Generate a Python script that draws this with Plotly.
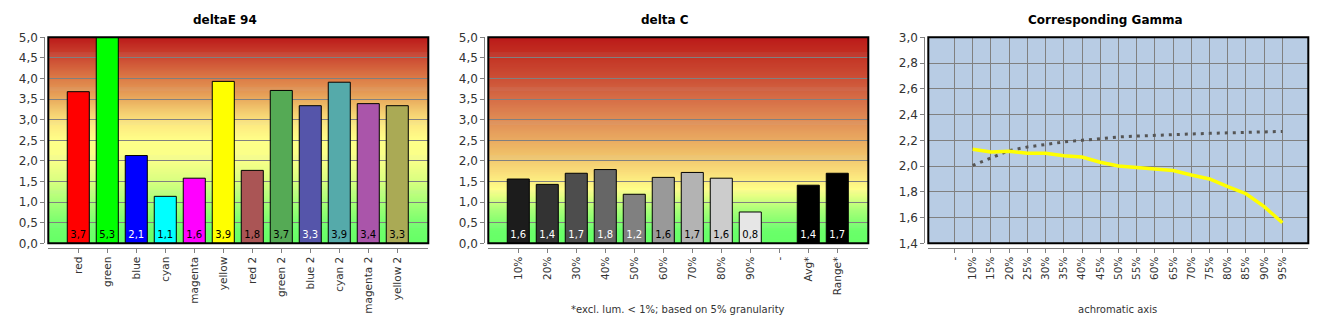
import plotly.graph_objects as go

# ---------------- data ----------------
de_categories = ["red", "green", "blue", "cyan", "magenta", "yellow",
                 "red 2", "green 2", "blue 2", "cyan 2", "magenta 2", "yellow 2"]
de_values = [3.68, 5.3, 2.13, 1.14, 1.58, 3.93, 1.77, 3.71, 3.34, 3.91, 3.39, 3.34]

dc_categories = ["10%", "20%", "30%", "40%", "50%", "60%", "70%", "80%", "90%", "-", "Avg*", "Range*"]
dc_values = [1.56, 1.43, 1.70, 1.79, 1.19, 1.60, 1.72, 1.58, 0.76, None, 1.41, 1.70]

gamma_categories = ["-", "10%", "15%", "20%", "25%", "30%", "35%", "40%", "45%", "50%",
                    "55%", "60%", "65%", "70%", "75%", "80%", "85%", "90%", "95%"]
gamma_x = gamma_categories[1:]
gamma_measured = [2.13, 2.11, 2.115, 2.10, 2.10, 2.08, 2.07, 2.03, 2.00,
                  1.99, 1.975, 1.965, 1.93, 1.90, 1.84, 1.785, 1.685, 1.56]
gamma_target = [2.005, 2.065, 2.12, 2.148, 2.168, 2.187, 2.20, 2.215, 2.226,
                2.233, 2.24, 2.246, 2.249, 2.254, 2.259, 2.261, 2.267, 2.269]

# ---------------- styles ----------------
de_colors = ["#ff0000", "#00ff00", "#0000ff", "#00ffff", "#ff00ff", "#ffff00",
             "#aa5555", "#55aa55", "#5555aa", "#55aaaa", "#aa55aa", "#aaaa55"]
de_text_colors = ["black", "black", "white", "black", "black", "black",
                  "black", "black", "white", "black", "black", "black"]
dc_colors = ["#1c1c1c", "#333333", "#4d4d4d", "#666666", "#808080", "#999999",
             "#b3b3b3", "#cccccc", "#e6e6e6", "#000000", "#000000", "#000000"]
dc_text_colors = ["white", "white", "white", "white", "white", "black",
                  "black", "black", "black", "black", "white", "white"]

grad_de = [(0.0, "#66ff66"), (0.4, "#70ff6c"), (1.0, "#a8ff78"), (1.5, "#d8ff80"),
           (2.0, "#f8ff88"), (2.5, "#ffff88"), (2.9, "#fde880"), (3.2, "#f3cc70"),
           (3.6, "#e6a058"), (4.0, "#dc7c48"), (4.5, "#cc4a32"), (5.0, "#bb1a1a")]
grad_dc = [(0.0, "#66ff66"), (0.3, "#6aff6a"), (0.8, "#a8ff78"), (1.3, "#ffff88"),
           (1.7, "#fae07c"), (2.2, "#efbe68"), (2.8, "#e4985a"), (3.4, "#d8744a"),
           (4.0, "#cc5036"), (4.6, "#c23022"), (5.0, "#bb1a1a")]

W, H = 1330, 330
FONT = "DejaVu Sans"
TICKCOL = "#333333"
GRID = "#808080"


def px_x(p):
    return p / W


def px_y(p):
    return 1 - p / H


def hex2rgb(h):
    h = h.lstrip("#")
    return tuple(int(h[i:i + 2], 16) for i in (0, 2, 4))


def interp(stops, v):
    for (v0, c0), (v1, c1) in zip(stops[:-1], stops[1:]):
        if v0 <= v <= v1:
            t = (v - v0) / (v1 - v0) if v1 > v0 else 0
            a, b = hex2rgb(c0), hex2rgb(c1)
            r = [round(a[i] + (b[i] - a[i]) * t) for i in range(3)]
            return "rgb(%d,%d,%d)" % tuple(r)
    return stops[-1][1]


fig = go.Figure()

fig.add_trace(go.Bar(x=de_categories, y=de_values, marker=dict(color=de_colors, line=dict(color="black", width=1)),
                     width=0.76, texttemplate="%{y:.1f}", textposition="inside", insidetextanchor="start",
                     textangle=0, textfont=dict(family=FONT, size=10, color=de_text_colors),
                     xaxis="x", yaxis="y", showlegend=False, hoverinfo="skip"))
fig.add_trace(go.Bar(x=dc_categories, y=dc_values, marker=dict(color=dc_colors, line=dict(color="black", width=1)),
                     width=0.76, texttemplate="%{y:.1f}", textposition="inside", insidetextanchor="start",
                     textangle=0, textfont=dict(family=FONT, size=10, color=dc_text_colors),
                     xaxis="x2", yaxis="y2", showlegend=False, hoverinfo="skip"))
fig.add_trace(go.Scatter(x=gamma_x, y=gamma_target, mode="lines",
                         line=dict(color="#555555", width=3, dash="3px,5px"),
                         xaxis="x3", yaxis="y3", showlegend=False, hoverinfo="skip"))
fig.add_trace(go.Scatter(x=gamma_x, y=gamma_measured, mode="lines",
                         line=dict(color="#ffff00", width=3.5),
                         xaxis="x3", yaxis="y3", showlegend=False, hoverinfo="skip"))

ydom = [px_y(243.3), px_y(37.3)]
xaxis_pos = px_y(247.5)

offsets = [0, 440, 880]
shapes = []
annotations = []

common_x = dict(type="category", anchor="free", position=xaxis_pos, showline=True, linecolor=GRID,
                linewidth=1, ticks="outside", ticklen=4, tickcolor=GRID, tickangle=-90, automargin=False,
                tickfont=dict(family=FONT, size=10.5, color=TICKCOL), zeroline=False, fixedrange=True)
common_y = dict(anchor="free", showline=True, linecolor=GRID, linewidth=1, ticks="outside", ticklen=4,
                tickcolor=GRID, tickfont=dict(family=FONT, size=12, color=TICKCOL), showgrid=True,
                gridcolor=GRID, gridwidth=1, zeroline=False, tickformat=".1f", domain=ydom,
                fixedrange=True, automargin=False)

layout_axes = {}
for i, off in enumerate(offsets):
    sx = "" if i == 0 else str(i + 1)
    xd = [px_x(48.3 + off), px_x(428.3 + off)]
    if i < 2:
        xr = [-1.034, 12.07]
        yr = [0, 5]
        dt = 0.5
        cats = de_categories if i == 0 else dc_categories
        showxgrid = False
    else:
        xr = [-1.436, 19.42]
        yr = [1.4, 3.0]
        dt = 0.2
        cats = gamma_categories
        showxgrid = True
    layout_axes["xaxis" + sx] = dict(common_x, domain=xd, range=xr, categoryorder="array",
                                     categoryarray=cats, showgrid=showxgrid, gridcolor=GRID, gridwidth=1)
    layout_axes["yaxis" + sx] = dict(common_y, position=px_x(44.3 + off), range=yr, dtick=dt, tick0=0)

    xref_dom = "x" + sx + " domain"
    yref_dom = "y" + sx + " domain"
    if i < 2:
        stops = grad_de if i == 0 else grad_dc
        n = 200
        step = 5.0 / n
        for k in range(n):
            v0 = k * step
            col = interp(stops, v0 + step / 2)
            shapes.append(dict(type="rect", xref=xref_dom, yref="y" + sx, x0=0, x1=1,
                               y0=v0, y1=min(5.0, v0 + step * 1.6), fillcolor=col,
                               line=dict(width=0), layer="below"))
    shapes.append(dict(type="rect", xref=xref_dom, yref=yref_dom, x0=0, x1=1, y0=0, y1=1,
                       line=dict(color="black", width=2), layer="above"))

titles = ["<b>deltaE 94</b>", "<b>delta C</b>", "<b>Corresponding Gamma</b>"]
title_x = [224.7, 664.7, 1105]
for t, xp in zip(titles, title_x):
    annotations.append(dict(text=t, x=px_x(xp), y=px_y(20), xref="paper", yref="paper",
                            xanchor="center", yanchor="middle", showarrow=False,
                            font=dict(family=FONT, size=12, color="black")))
annotations.append(dict(text="*excl. lum. < 1%; based on 5% granularity", x=px_x(677.8), y=px_y(309),
                        xref="paper", yref="paper", xanchor="center", yanchor="middle", showarrow=False,
                        font=dict(family=FONT, size=10, color=TICKCOL)))
annotations.append(dict(text="achromatic axis", x=px_x(1117.3), y=px_y(309),
                        xref="paper", yref="paper", xanchor="center", yanchor="middle", showarrow=False,
                        font=dict(family=FONT, size=10, color=TICKCOL)))

fig.update_layout(
    width=W, height=H, margin=dict(l=0, r=0, t=0, b=0, pad=0), autosize=False,
    paper_bgcolor="white", plot_bgcolor="#b8cce4",
    separators=",.", bargap=0.24,
    shapes=shapes, annotations=annotations,
    **layout_axes,
)

fig.write_html("out.html")
